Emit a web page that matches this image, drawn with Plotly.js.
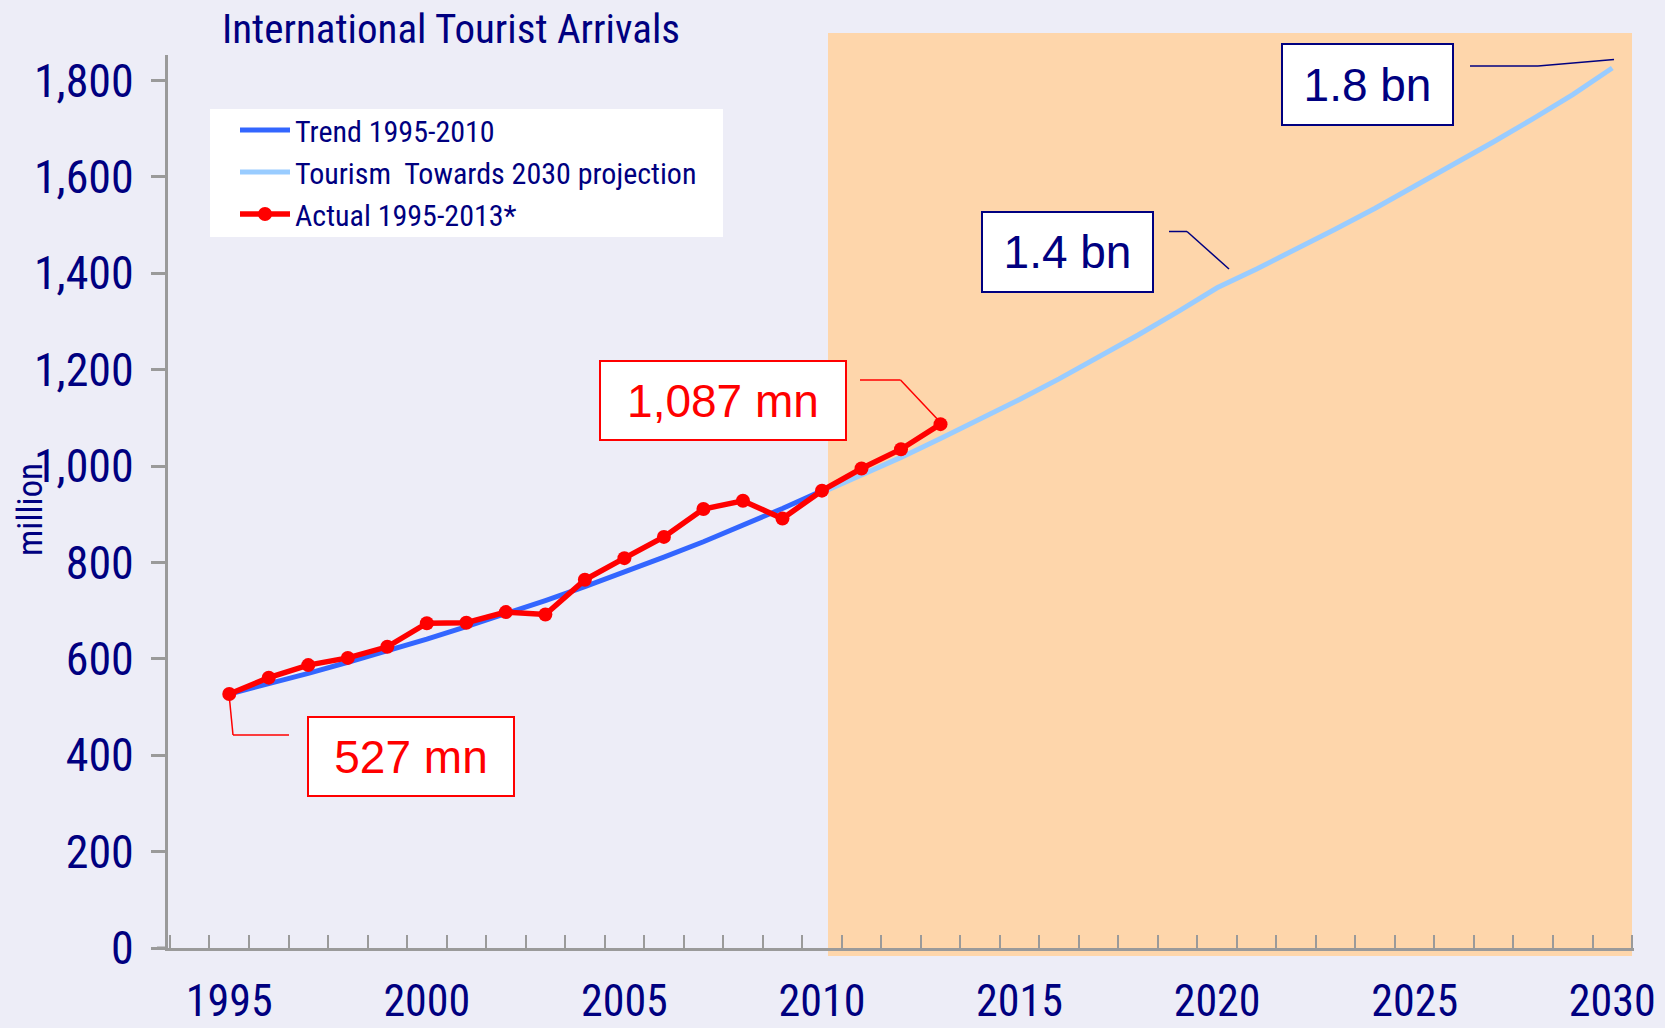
<!DOCTYPE html>
<html>
<head>
<meta charset="utf-8">
<script src="https://cdn.plot.ly/plotly-3.0.1.min.js"></script>
<style>html,body{margin:0;padding:0;background:#EDEDF7;}#chart{width:1665px;height:1028px;}</style>
</head>
<body>
<div id="chart"></div>
<script>
// ---- data ----
const actualYears = [1995,1996,1997,1998,1999,2000,2001,2002,2003,2004,2005,2006,2007,2008,2009,2010,2011,2012,2013];
const actualValues = [527,561,587,602,625,674,675,697,692,764,809,853,911,928,891,949,995,1035,1087];
const trendYears = [1995,1996,1997,1998,1999,2000,2001,2002,2003,2004,2005,2006,2007,2008,2009,2010];
const trendValues = [527,548,570,593,616,641,667,693,721,750,780,811,843,877,912,949];
const projYears = [2010,2011,2012,2013,2014,2015,2016,2017,2018,2019,2020,2021,2022,2023,2024,2025,2026,2027,2028,2029,2030];
const projValues = [945,981,1018,1057,1097,1138,1181,1226,1272,1320,1370,1409,1450,1492,1535,1580,1626,1673,1721,1771,1826];
const xTickYears = [1995,2000,2005,2010,2015,2020,2025,2030];
const yTicks = [0,200,400,600,800,1000,1200,1400,1600,1800];
const seriesNames = ['Trend 1995-2010','Tourism  Towards 2030 projection','Actual 1995-2013*'];
const labels = ['527 mn','1,087 mn','1.4 bn','1.8 bn'];

// ---- layout helpers (pixel -> paper) ----
const W = 1665, H = 1028, L = 168, R = 31, T = 55, B = 80;
const PW = W - L - R, PH = H - T - B;
const px = v => (v - L) / PW;
const py = v => (H - B - v) / PH;

const NAVY = '#000080', RED = '#FF0000', AXIS = '#9A9A9A';
const NARROW = '"Liberation Sans Narrow", "Arial Narrow", "Roboto Condensed", Arial, sans-serif';
const ARIAL = '"Liberation Sans", Arial, sans-serif';

const traces = [
  {x: projYears, y: projValues, name: seriesNames[1], mode: 'lines', legendrank: 2,
   line: {color: '#99CCFF', width: 5}},
  {x: trendYears, y: trendValues, name: seriesNames[0], mode: 'lines', legendrank: 1,
   line: {color: '#3366FF', width: 5}},
  {x: actualYears, y: actualValues, name: seriesNames[2], mode: 'lines+markers', legendrank: 3,
   line: {color: RED, width: 5.5}, marker: {color: RED, size: 14}}
];

function box(text, cx, cy, w, h, color) {
  return {xref: 'paper', yref: 'paper', x: px(cx), y: py(cy), xanchor: 'center', yanchor: 'middle',
    text: text, showarrow: false, width: w, height: h, bgcolor: '#FFFFFF', bordercolor: color,
    borderwidth: 2, borderpad: 0, font: {family: ARIAL, size: 46, color: color}};
}
function seg(x0, y0, x1, y1, color) {
  return {type: 'line', xref: 'paper', yref: 'paper', x0: px(x0), y0: py(y0), x1: px(x1), y1: py(y1),
    line: {color: color, width: 1.5}, layer: 'above'};
}

const shapes = [
  {type: 'rect', xref: 'paper', yref: 'paper', x0: px(828), x1: px(1632), y0: py(956), y1: py(33),
   fillcolor: '#FED6AB', line: {width: 0}, layer: 'below'},
  // legend box
  {type: 'rect', xref: 'paper', yref: 'paper', x0: px(210), x1: px(723), y0: py(237), y1: py(109),
   fillcolor: '#FFFFFF', line: {width: 0}, layer: 'below'},
  {type: 'line', xref: 'paper', yref: 'paper', x0: px(157), x1: px(168), y0: 0, y1: 0,
   line: {color: AXIS, width: 3}, layer: 'above'},
  // connectors
  seg(1470, 66, 1538, 66, NAVY), seg(1538, 66, 1614, 59.5, NAVY),
  seg(1169, 231.5, 1187, 231.5, NAVY), seg(1187, 231.5, 1229, 269, NAVY),
  seg(860, 380, 900.5, 380, RED), seg(900.5, 380, 941, 423, RED),
  seg(229, 694, 233, 735, RED), seg(233, 735, 289, 735, RED)
];

const annotations = [
  box(labels[0], 411, 756.5, 204, 77, RED),
  box(labels[1], 723, 400.5, 244, 77, RED),
  box(labels[2], 1067, 252, 169, 78, NAVY),
  box(labels[3], 1367.5, 84.5, 169, 79, NAVY),
  {xref: 'paper', yref: 'paper', x: px(30), y: py(510), text: 'million', textangle: -90,
   showarrow: false, xanchor: 'center', yanchor: 'middle', font: {family: NARROW, size: 35, color: NAVY}}
];

const layout = {
  width: W, height: H,
  margin: {l: L, r: R, t: T, b: B, pad: 0},
  paper_bgcolor: '#EDEDF7', plot_bgcolor: 'rgba(0,0,0,0)',
  title: {text: 'International Tourist Arrivals', xref: 'paper', x: px(451), xanchor: 'center',
    yref: 'container', y: 1 - 29 / H, yanchor: 'middle', font: {family: NARROW, size: 41, color: NAVY}},
  showlegend: true,
  legend: {x: px(235), y: py(104), xanchor: 'left', yanchor: 'top', bgcolor: 'rgba(0,0,0,0)', borderwidth: 0,
    font: {family: NARROW, size: 30, color: NAVY}, itemwidth: 50, tracegroupgap: 0},
  xaxis: {range: [1993.45, 2030.55], tickmode: 'array', tickvals: xTickYears, ticks: '',
    showgrid: false, zeroline: false, showline: true, linecolor: AXIS, linewidth: 3,
    ticklabelstandoff: 12, tickfont: {family: NARROW, size: 44, color: NAVY},
    minor: {tick0: 1994.5, dtick: 1, ticks: 'inside', ticklen: 13, tickcolor: AXIS, tickwidth: 2, showgrid: false}},
  yaxis: {range: [0, 1853], tickmode: 'array', tickvals: yTicks, tickformat: ',d',
    ticks: 'outside', ticklen: 14, tickcolor: AXIS, tickwidth: 3,
    showgrid: false, zeroline: false, showline: true, linecolor: AXIS, linewidth: 3,
    ticklabelstandoff: 8, tickfont: {family: NARROW, size: 46, color: NAVY}},
  shapes: shapes,
  annotations: annotations
};

Plotly.newPlot('chart', traces, layout, {displayModeBar: false, staticPlot: true});
</script>
</body>
</html>
